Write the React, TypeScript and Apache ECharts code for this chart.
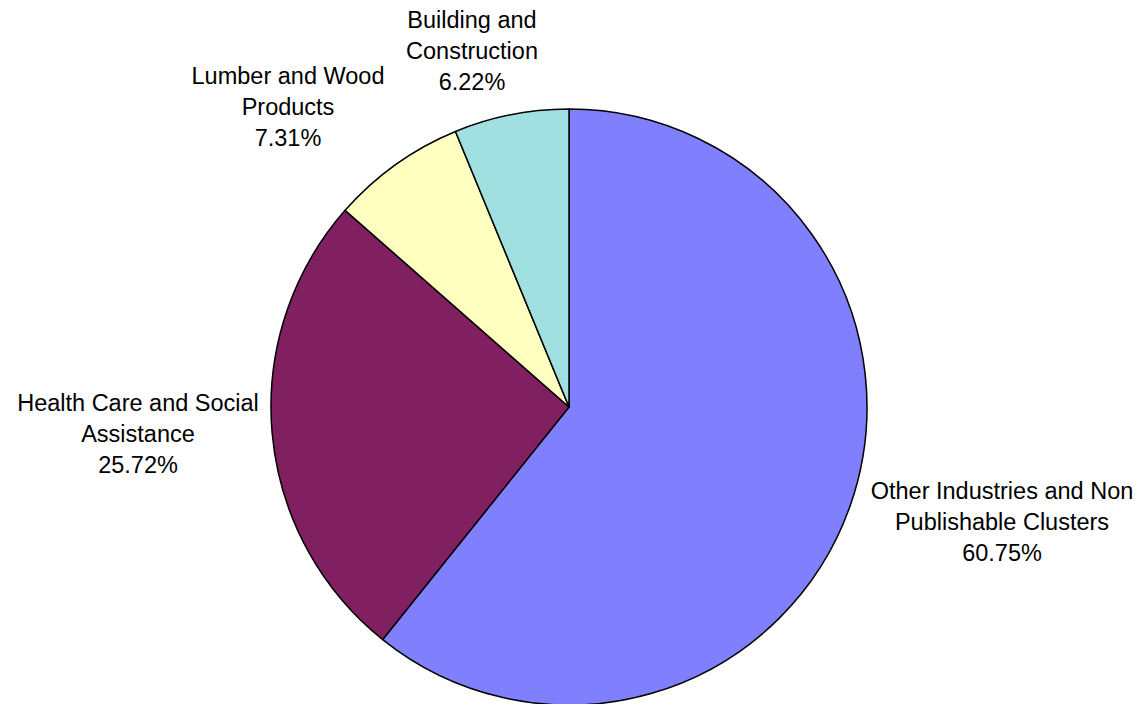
import React, { useEffect, useRef } from "react";
import * as echarts from "echarts";

const categories = [
  "Other Industries and Non\nPublishable Clusters",
  "Health Care and Social\nAssistance",
  "Lumber and Wood\nProducts",
  "Building and\nConstruction",
];
const shares = [60.75, 25.72, 7.31, 6.22];
const colors = ["#8080FF", "#802060", "#FFFFC0", "#A0E0E0"];

// label block centres (layout only)
const labelCenters: [number, number][] = [
  [1002, 522],
  [138, 434],
  [288, 107],
  [472, 51],
];

export default function App() {
  const ref = useRef<HTMLDivElement>(null);
  useEffect(() => {
    const chart = echarts.init(ref.current!, null, { renderer: "svg" });
    chart.setOption({
      animation: false,
      backgroundColor: "#ffffff",
      series: [
        {
          type: "pie",
          center: [569, 407],
          radius: 298,
          startAngle: 90,
          clockwise: true,
          avoidLabelOverlap: false,
          data: categories.map((name, i) => ({
            name,
            value: shares[i],
            itemStyle: { color: colors[i] },
          })),
          itemStyle: { borderColor: "#000000", borderWidth: 1.5 },
          label: {
            show: true,
            position: "outside",
            formatter: (p: any) => `${p.name}\n${p.value.toFixed(2)}%`,
            fontFamily: "Liberation Sans, Arial, sans-serif",
            fontSize: 23.5,
            lineHeight: 31,
            color: "#000000",
          },
          labelLine: { show: false, length: 10, length2: 0 },
          labelLayout: (params: any) => {
            const c = labelCenters[params.dataIndex];
            return { x: c[0], y: c[1], align: "center", verticalAlign: "middle" };
          },
          emphasis: { disabled: true },
        },
      ],
    });
    return () => chart.dispose();
  }, []);
  return (
    <div
      ref={ref}
      style={{ position: "fixed", left: 0, top: 0, width: 1145, height: 704 }}
    />
  );
}
